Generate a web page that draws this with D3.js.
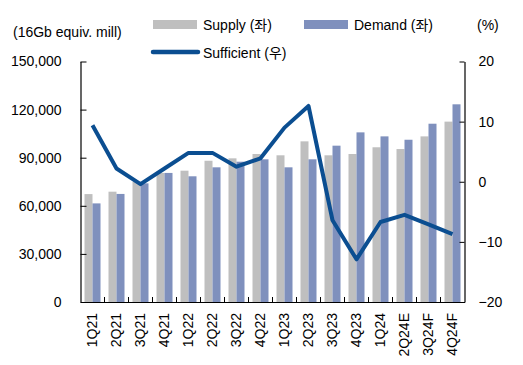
<!DOCTYPE html>
<html>
<head>
<meta charset="utf-8">
<script src="https://cdn.jsdelivr.net/npm/d3@7"></script>
<style>
  body { margin: 0; background: #fff; }
  text { font-family: Arial, "Liberation Sans", "Noto Sans CJK KR", sans-serif; fill: #000; }
</style>
</head>
<body>
<div id="chart"></div>
<script>
const quarters = ["1Q21","2Q21","3Q21","4Q21","1Q22","2Q22","3Q22","4Q22","1Q23","2Q23","3Q23","4Q23","1Q24","2Q24E","3Q24F","4Q24F"];
const supply = [67300, 68800, 75000, 80500, 81900, 88100, 89600, 92300, 91500, 100200, 91500, 92300, 96500, 95400, 103300, 112500];
const demand = [61500, 67400, 74000, 80500, 78400, 84000, 87500, 89000, 84000, 89000, 97500, 105800, 103300, 101200, 111200, 123300];
const sufficient = [9.4, 2.2, -0.4, 2.2, 4.8, 4.8, 2.5, 3.9, 9.0, 12.6, -6.4, -12.9, -6.7, -5.5, -7.1, -8.7];
const leftTicks = [0, 30000, 60000, 90000, 120000, 150000];
const rightTicks = [-20, -10, 0, 10, 20];

const W = 523, H = 365;
const m = { left: 80.5, right: 464.5, top: 61.5, bottom: 302 };

const svg = d3.select("#chart").append("svg")
  .attr("width", W).attr("height", H);

const x = d3.scaleBand().domain(quarters).range([m.left, m.right]);
const xs = d3.scaleBand().domain(["s", "d"]).range([x.bandwidth() / 6, x.bandwidth() * 5 / 6]);
const yL = d3.scaleLinear().domain([0, 150000]).range([m.bottom, m.top]);
const yR = d3.scaleLinear().domain([-20, 20]).range([m.bottom, m.top]);

// bars
const g = svg.append("g");
g.selectAll(".sup").data(quarters).join("rect")
  .attr("x", (d) => x(d) + xs("s"))
  .attr("y", (d, i) => yL(supply[i]))
  .attr("width", xs.bandwidth())
  .attr("height", (d, i) => m.bottom - yL(supply[i]))
  .attr("fill", "#BFBFBF");
g.selectAll(".dem").data(quarters).join("rect")
  .attr("x", (d) => x(d) + xs("d"))
  .attr("y", (d, i) => yL(demand[i]))
  .attr("width", xs.bandwidth())
  .attr("height", (d, i) => m.bottom - yL(demand[i]))
  .attr("fill", "#7F90BD");

// axes
const axL = svg.append("g").attr("transform", `translate(${m.left},0)`)
  .call(d3.axisLeft(yL).tickValues(leftTicks).tickSizeInner(-6).tickSizeOuter(0).tickPadding(19).tickFormat(d3.format(",")));
const axR = svg.append("g").attr("transform", `translate(${m.right},0)`)
  .call(d3.axisRight(yR).tickValues(rightTicks).tickSizeInner(-5).tickSizeOuter(0).tickPadding(14));
const axB = svg.append("g").attr("transform", `translate(0,${m.bottom})`)
  .call(d3.axisBottom(x).tickSize(0).tickPadding(0));
[axL, axR, axB].forEach(a => {
  a.selectAll("path").attr("stroke", "#000").attr("stroke-width", 1.2);
  a.selectAll("line").attr("stroke", "#000");
  a.selectAll("text").attr("font-size", 14).attr("font-family", "Arial, 'Liberation Sans', sans-serif");
});
axB.selectAll(".tick text")
  .attr("transform", "rotate(-90)")
  .attr("text-anchor", "end")
  .attr("x", -11)
  .attr("y", 0)
  .attr("dy", "0.35em");
// category separators
svg.append("g").selectAll("line").data(quarters.slice(1)).join("line")
  .attr("x1", (d) => x(d)).attr("x2", (d) => x(d))
  .attr("y1", m.bottom).attr("y2", m.bottom - 5)
  .attr("stroke", "#000");

// line
const line = d3.line()
  .x((d, i) => x(quarters[i]) + x.bandwidth() / 2)
  .y((d) => yR(d));
svg.append("path").datum(sufficient)
  .attr("d", line)
  .attr("fill", "none")
  .attr("stroke", "#0B4E91")
  .attr("stroke-width", 4)
  .attr("stroke-linejoin", "round");

// titles
svg.append("text").attr("x", 13).attr("y", 37).attr("font-size", 14).text("(16Gb equiv. mill)");
svg.append("text").attr("x", 477).attr("y", 30).attr("font-size", 14).text("(%)");

// legend
const lg = svg.append("g");
lg.append("rect").attr("x", 153).attr("y", 20).attr("width", 44).attr("height", 9).attr("fill", "#BFBFBF");
lg.append("text").attr("x", 203).attr("y", 30).attr("font-size", 14).text("Supply (좌)");
lg.append("rect").attr("x", 304).attr("y", 20).attr("width", 44).attr("height", 9).attr("fill", "#7F90BD");
lg.append("text").attr("x", 354).attr("y", 30).attr("font-size", 14).text("Demand (좌)");
lg.append("line").attr("x1", 153).attr("x2", 198).attr("y1", 52).attr("y2", 52)
  .attr("stroke", "#0B4E91").attr("stroke-width", 4.5).attr("stroke-linecap", "round");
lg.append("text").attr("x", 203).attr("y", 58).attr("font-size", 14).text("Sufficient (우)");
</script>
</body>
</html>
